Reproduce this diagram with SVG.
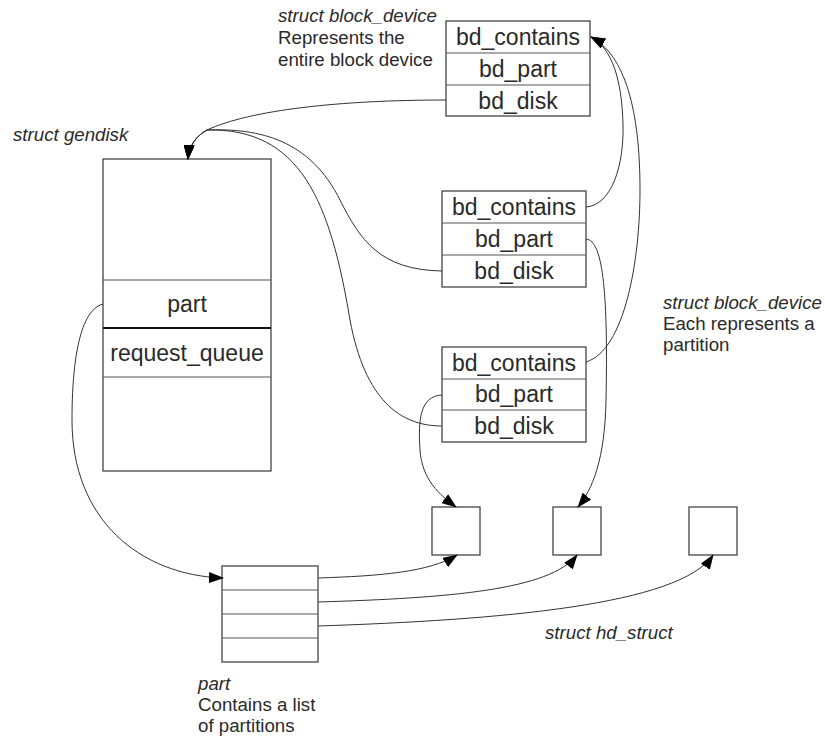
<svg xmlns="http://www.w3.org/2000/svg" width="825" height="736" viewBox="0 0 825 736">
<defs>
<marker id="arr" markerWidth="15" markerHeight="11" refX="14" refY="5.5" orient="auto" markerUnits="userSpaceOnUse">
<path d="M0,0 L15,5.5 L0,11 Z" fill="#000"/>
</marker>
<style>
.box{fill:#fff;stroke:#444;stroke-width:1.3}
.sep{stroke:#555;stroke-width:1.2}
.f{font-family:"Liberation Sans",Arial,sans-serif;font-size:23px;fill:#2a2a2a;text-anchor:middle}
.l{font-family:"Liberation Sans",Arial,sans-serif;font-size:18.7px;fill:#2a2a2a}
.i{font-style:italic}
.c{fill:none;stroke:#333;stroke-width:1}
</style>
</defs>
<rect width="825" height="736" fill="#fff"/>

<g id="labels">
<text class="l" x="278" y="22"><tspan class="i">struct block_device</tspan><tspan x="278" y="44">Represents the</tspan><tspan x="278" y="66">entire block device</tspan></text>
<text class="l i" x="13" y="141">struct gendisk</text>
<text class="l" x="663" y="309"><tspan class="i">struct block_device</tspan><tspan x="663" y="330">Each represents a</tspan><tspan x="663" y="351">partition</tspan></text>
<text class="l i" x="545" y="639">struct hd_struct</text>
<text class="l" x="198" y="690"><tspan class="i">part</tspan><tspan x="198" y="711">Contains a list</tspan><tspan x="198" y="732">of partitions</tspan></text>
</g>

<g id="bdev_whole">
<rect class="box" x="446" y="21" width="144" height="95"/>
<line class="sep" x1="446" y1="53" x2="590" y2="53"/>
<line class="sep" x1="446" y1="85" x2="590" y2="85"/>
<text class="f" x="518" y="45">bd_contains</text>
<text class="f" x="518" y="77">bd_part</text>
<text class="f" x="518" y="109">bd_disk</text>
</g>

<g id="gendisk">
<rect class="box" x="103" y="159" width="168" height="312"/>
<line class="sep" x1="103" y1="280" x2="271" y2="280"/>
<line x1="103" y1="328" x2="271" y2="328" stroke="#111" stroke-width="2"/>
<line class="sep" x1="103" y1="377" x2="271" y2="377"/>
<text class="f" x="187" y="312">part</text>
<text class="f" x="187" y="361">request_queue</text>
</g>

<g id="bdev_part1">
<rect class="box" x="442" y="191" width="144" height="96"/>
<line class="sep" x1="442" y1="223" x2="586" y2="223"/>
<line class="sep" x1="442" y1="255" x2="586" y2="255"/>
<text class="f" x="514" y="215">bd_contains</text>
<text class="f" x="514" y="247">bd_part</text>
<text class="f" x="514" y="279">bd_disk</text>
</g>

<g id="bdev_part2">
<rect class="box" x="442" y="347" width="144" height="95"/>
<line class="sep" x1="442" y1="379" x2="586" y2="379"/>
<line class="sep" x1="442" y1="410" x2="586" y2="410"/>
<text class="f" x="514" y="371">bd_contains</text>
<text class="f" x="514" y="402">bd_part</text>
<text class="f" x="514" y="434">bd_disk</text>
</g>

<g id="hd1"><rect class="box" x="432" y="507" width="48" height="48"/></g>
<g id="hd2"><rect class="box" x="553" y="507" width="48" height="48"/></g>
<g id="hd3"><rect class="box" x="689" y="507" width="48" height="48"/></g>

<g id="part_list">
<rect class="box" x="222" y="566" width="96" height="96"/>
<line class="sep" x1="222" y1="590" x2="318" y2="590"/>
<line class="sep" x1="222" y1="614" x2="318" y2="614"/>
<line class="sep" x1="222" y1="638" x2="318" y2="638"/>
</g>

<g id="connectors">
<path class="c" d="M446,100 C340,100 250,110 207,130 C196,136 189,146 188,159" marker-end="url(#arr)"/>
<path class="c" d="M442,271 C380,270 360,240 340,200 C310,140 260,128 207,130 C196,136 189,146 188,159" marker-end="url(#arr)"/>
<path class="c" d="M442,426 C400,426 365,400 350,320 C330,200 300,128 207,130 C196,136 189,146 188,159" marker-end="url(#arr)"/>
<path class="c" d="M586,207 C612,205 624,165 623,125 C622,80 612,48 591,37" marker-end="url(#arr)"/>
<path class="c" d="M586,362 C625,350 640,260 640,190 C640,110 625,55 591,37" marker-end="url(#arr)"/>
<path class="c" d="M586,239 C604,240 608,300 606,400 C605,460 592,490 578,507" marker-end="url(#arr)"/>
<path class="c" d="M442,395 C420,396 418,420 420,450 C422,480 440,495 456,507" marker-end="url(#arr)"/>
<path class="c" d="M103,304 C80,310 72,360 72,420 C72,520 140,575 223,578" marker-end="url(#arr)"/>
<path class="c" d="M318,578 C380,576 430,572 457,555" marker-end="url(#arr)"/>
<path class="c" d="M318,602 C450,598 550,590 577,555" marker-end="url(#arr)"/>
<path class="c" d="M318,626 C500,620 680,605 713,555" marker-end="url(#arr)"/>
</g>
</svg>
